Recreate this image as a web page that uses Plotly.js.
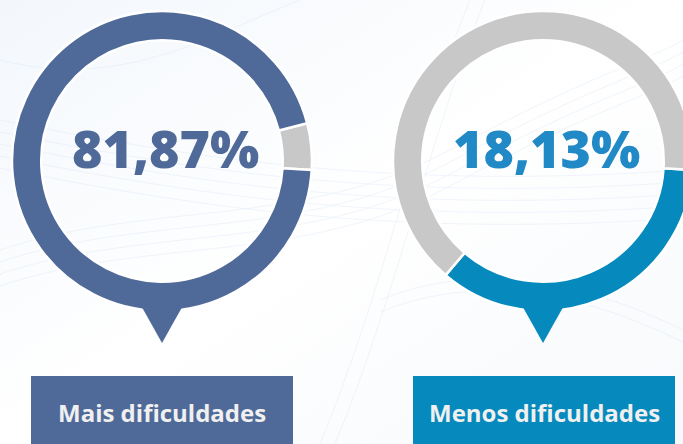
<!DOCTYPE html>
<html>
<head>
<meta charset="utf-8">
<script src="https://cdn.plot.ly/plotly-3.0.1.min.js"></script>
<style>
  html, body { margin: 0; padding: 0; width: 683px; height: 444px; overflow: hidden; background: #ffffff; }
  #bg { position: absolute; left: 0; top: 0; width: 683px; height: 444px; }
  #chart { position: absolute; left: 0; top: 0; width: 720px; height: 444px; }
</style>
</head>
<body>
<svg id="bg" width="683" height="444" xmlns="http://www.w3.org/2000/svg">
  <defs>
    <linearGradient id="g" x1="0" y1="0" x2="1" y2="1">
      <stop offset="0" stop-color="#f3f7fc"/>
      <stop offset="0.5" stop-color="#ffffff"/>
      <stop offset="1" stop-color="#f7f9fc"/>
    </linearGradient>
  </defs>
  <rect width="683" height="444" fill="url(#g)"/>
  <g fill="none" stroke="#d6e6f6" stroke-width="0.6" opacity="0.6">
    <path d="M0 250 C150 200 300 230 450 150 S650 60 683 40"/>
    <path d="M0 262 C150 212 300 242 450 162 S650 72 683 52"/>
    <path d="M0 274 C150 224 300 254 450 174 S650 84 683 64"/>
    <path d="M0 286 C150 236 300 266 450 186 S650 96 683 76"/>
    <path d="M0 120 C200 160 400 190 683 170"/>
    <path d="M0 132 C200 172 400 202 683 182"/>
    <path d="M0 144 C200 184 400 214 683 194"/>
    <path d="M0 156 C200 196 400 226 683 206"/>
    <path d="M0 168 C200 208 400 238 683 218"/>
    <path d="M320 444 C380 300 420 120 470 0"/>
    <path d="M335 444 C395 300 435 120 485 0"/>
    <path d="M0 60 C120 90 200 40 300 0"/>
    <path d="M380 300 C480 260 580 280 683 330"/>
    <path d="M380 312 C480 272 580 292 683 342"/>
  </g>
</svg>
<div id="chart"></div>
<script>
  // Data
  const categories = ["Mais dificuldades", "Menos dificuldades"];
  const percentValues = [81.87, 18.13];
  // Visible share of the coloured arc in each ring (as drawn in the picture, %)
  const arcHighlight = [95.0, 35.3];

  const ringColors = ["#4F6A99", "#068ABD"];
  const numberColors = ["#4F6A99", "#2189C6"];
  const grey = "#C8C8C8";

  const W = 720, H = 444;
  const px = x => x / W;
  const py = y => 1 - y / H;

  // ring geometry (pixels)
  const centers = [[162, 161], [543, 161]];
  const R = 150;

  const fmt = v => v.toFixed(2).replace('.', ',') + '%';

  const traces = [
    {
      type: 'pie', sort: false, direction: 'clockwise', rotation: 93.4 - (100 - arcHighlight[0]) * 3.6,
      values: [100 - arcHighlight[0], arcHighlight[0]],
      labels: ['resto', categories[0]],
      marker: { colors: [grey, ringColors[0]], line: { color: '#ffffff', width: 2.5 } },
      hole: 0.805, textinfo: 'none', hoverinfo: 'none', showlegend: false,
      domain: { x: [px(centers[0][0] - R), px(centers[0][0] + R)], y: [py(centers[0][1] + R), py(centers[0][1] - R)] }
    },
    {
      type: 'pie', sort: false, direction: 'clockwise', rotation: 93.4,
      values: [arcHighlight[1], 100 - arcHighlight[1]],
      labels: [categories[1], 'resto'],
      marker: { colors: [ringColors[1], grey], line: { color: '#ffffff', width: 2.5 } },
      hole: 0.805, textinfo: 'none', hoverinfo: 'none', showlegend: false,
      domain: { x: [px(centers[1][0] - R), px(centers[1][0] + R)], y: [py(centers[1][1] + R), py(centers[1][1] - R)] }
    }
  ];

  const shapes = [];
  const annotations = [];
  const boxes = [[31, 293], [413, 675]];
  for (let i = 0; i < 2; i++) {
    const [cx] = centers[i];
    // pointer
    shapes.push({
      type: 'path', xref: 'paper', yref: 'paper',
      path: `M ${px(cx - 28)} ${py(293)} L ${px(cx + 28)} ${py(293)} L ${px(cx)} ${py(343)} Z`,
      fillcolor: ringColors[i], line: { width: 0 }
    });
    // label box
    shapes.push({
      type: 'rect', xref: 'paper', yref: 'paper',
      x0: px(boxes[i][0]), x1: px(boxes[i][1]), y0: py(450), y1: py(376),
      fillcolor: ringColors[i], line: { width: 0 }
    });
    annotations.push({
      xref: 'paper', yref: 'paper', x: px(cx + 3), y: py(148),
      xanchor: 'center', yanchor: 'middle', showarrow: false,
      text: fmt(percentValues[i]),
      font: { family: 'Open Sans', size: 52, weight: 800, color: numberColors[i] }
    });
    annotations.push({
      xref: 'paper', yref: 'paper', x: px((boxes[i][0] + boxes[i][1]) / 2), y: py(412),
      xanchor: 'center', yanchor: 'middle', showarrow: false,
      text: categories[i],
      font: { family: 'Open Sans', size: 24, weight: 700, color: '#F0F0F0' }
    });
  }

  const layout = {
    width: W, height: H,
    margin: { l: 0, r: 0, t: 0, b: 0 },
    paper_bgcolor: 'rgba(0,0,0,0)', plot_bgcolor: 'rgba(0,0,0,0)',
    showlegend: false, shapes, annotations
  };
  Plotly.newPlot('chart', traces, layout, { staticPlot: true, displayModeBar: false });
</script>
</body>
</html>
